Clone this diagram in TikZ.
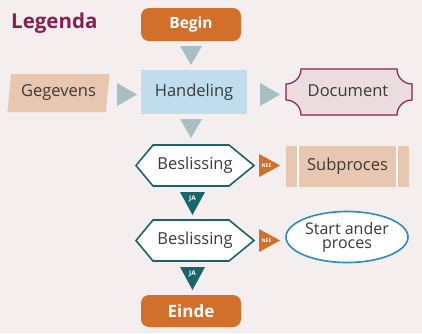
\documentclass[tikz,border=0pt]{standalone}
\usepackage{fontspec}
\setmainfont{Open Sans}
\usetikzlibrary{shapes.geometric}
\definecolor{bgcol}{HTML}{F4EEEF}
\definecolor{wine}{HTML}{8C1D54}
\definecolor{oranje}{HTML}{D26F2A}
\definecolor{lichtblauw}{HTML}{BFDDED}
\definecolor{perzik}{HTML}{E8C7B0}
\definecolor{grijsblauw}{HTML}{A6BFC2}
\definecolor{petrol}{HTML}{19666A}
\definecolor{roze}{HTML}{EBDCE0}
\definecolor{blauw}{HTML}{2B8CBE}
\definecolor{donker}{HTML}{3A3A3A}

\begin{document}
\begin{tikzpicture}[x=1pt, y=-1pt,
    txt/.style={text=donker, font=\fontsize{16.5}{16}\selectfont},
    terminal/.style={fill=oranje, rounded corners=8pt, minimum width=100pt, inner sep=0pt, text=white},
    tag/.style={text=white, inner sep=0pt, font=\bfseries\fontsize{5}{5}\selectfont},
    beslis/.style={draw=petrol, fill=white, line width=1.6pt, line join=miter}]
                    \fill[bgcol] (0,0) rectangle (422,333);
                    \node[anchor=base west, inner sep=0pt, text=wine, font=\bfseries\fontsize{20.5}{20}\selectfont] (legenda) at (11,28) {Legenda};
                    \node[terminal, minimum height=33pt, font=\bfseries\fontsize{15.5}{15}\selectfont] (begin) at (191,24.5) {Begin};
                    \node[txt, fill=lichtblauw, minimum width=106pt, minimum height=44pt] (handeling) at (194,92) {Handeling};
                    \node[txt, trapezium, trapezium left angle=82, trapezium right angle=98, trapezium stretches=true,
                          fill=perzik, minimum width=103pt, minimum height=38pt] (gegevens) at (58.5,93) {Gegevens};
                    % document met holle hoeken
                    \draw[fill=roze, draw=wine, line width=1.2pt] (301,69) -- (397,69) arc (180:270:15pt) -- (412,100) arc (90:180:15pt)
                          -- (301,115) arc (0:90:15pt) -- (286,84) arc (-90:0:15pt) -- cycle;
                    \node[txt] (document) at (348,91) {Document};
                    \foreach \y in {46,119}
                        \fill[grijsblauw] (180,\y) -- (202,\y) -- (191,\y+19) -- cycle;
                    \foreach \x in {117,260}
                        \fill[grijsblauw] (\x,83) -- (\x,106) -- (\x+20,94.5) -- cycle;
                    \foreach \y [count=\i] in {145,220} {
                        \draw[beslis] (136,\y+20.5) -- (153,\y) -- (229,\y) -- (254,\y+20.5) -- (229,\y+41) -- (153,\y+41) -- cycle;
                        \node[txt] (beslissing\i) at (195,\y+20.5) {Beslissing};
                        \fill[oranje] (259,\y+9) -- (259,\y+32) -- (280,\y+20.5) -- cycle;
                        \node[tag] (nee\i) at (266.5,\y+20.5) {NEE};
                        \fill[petrol] (180,\y+47) -- (205,\y+47) -- (192.5,\y+70) -- cycle;
                        \node[tag, font=\bfseries\fontsize{6.5}{6}\selectfont] (ja\i) at (192.5,\y+54) {JA};
                    }
                    \node[txt, fill=perzik, minimum width=123pt, minimum height=41pt] (subproces) at (347.5,166.5) {Subproces};
                    \draw[white, line width=1.5pt] ([xshift=12pt]subproces.north west) -- ([xshift=12pt]subproces.south west);
                    \draw[white, line width=1.5pt] ([xshift=-12pt]subproces.north east) -- ([xshift=-12pt]subproces.south east);
                    \node[txt, ellipse, draw=blauw, fill=white, line width=1.6pt, minimum width=122pt, minimum height=51pt, inner sep=0pt,
                          align=center, font=\fontsize{16}{14}\selectfont] (start) at (347,237) {Start ander\\proces};
                    \node[terminal, minimum height=32pt, font=\bfseries\fontsize{17}{17}\selectfont] (einde) at (191,311) {Einde};
                \end{tikzpicture}
\end{document}
